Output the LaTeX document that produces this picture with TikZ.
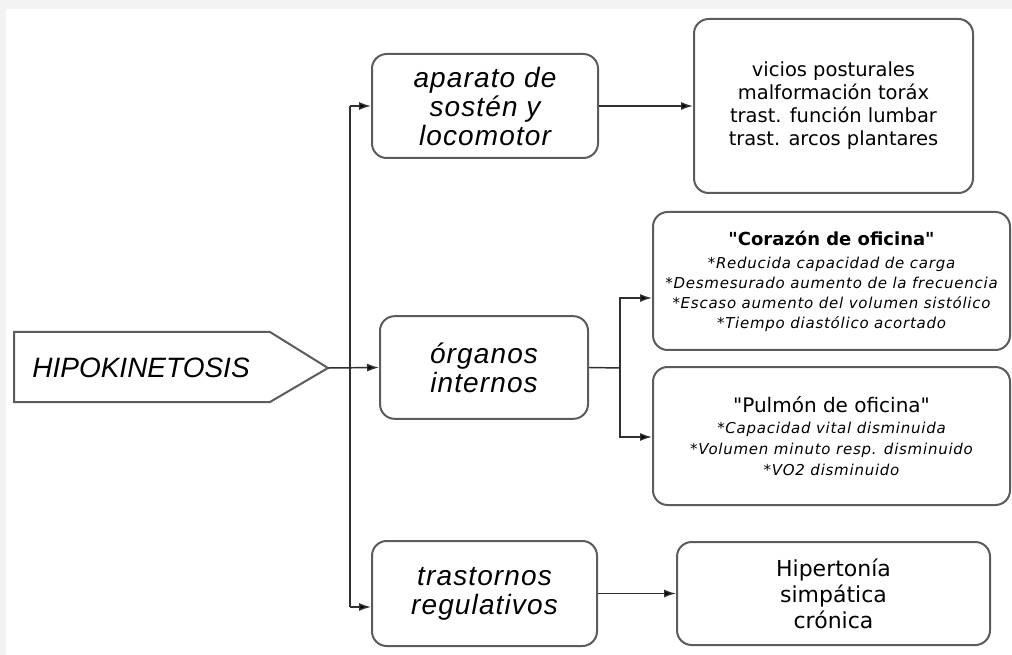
\documentclass[tikz,border=0pt]{standalone}
\usepackage{fontspec}
\setmainfont{DejaVu Sans}
\newfontfamily\labelfont[LetterSpace=4]{Liberation Sans}
\newfontfamily\titlefont{Liberation Sans}
\newfontfamily\headfont[Ligatures=TeXOff]{DejaVu Sans}
\newfontfamily\notefont[LetterSpace=5]{DejaVu Sans}
\newcommand\notetext{\notefont\itshape\fontsize{11.25}{15}\selectfont}
\usetikzlibrary{arrows.meta}
\definecolor{bgfill}{HTML}{F3F3F3}
\definecolor{boxgray}{HTML}{5C5C5C}
\definecolor{linkgray}{HTML}{303030}

\begin{document}
\begin{tikzpicture}[x=0.75pt,y=-0.75pt,
  box/.style={draw=boxgray, line width=1.5pt, rounded corners=11pt, fill=white,
    align=center, inner sep=0pt, text=black},
  catbox/.style={box, font=\labelfont\itshape\fontsize{21}{21.75}\selectfont},
  listbox/.style={box, font=\fontsize{14.6}{17.25}\selectfont},
  link/.style={draw=linkgray, line width=1.1pt},
  arrowlink/.style={link, -{Latex[length=9pt,width=6pt]}, arrows={[fill=black]}}
]
% canvas
\fill[bgfill] (0,0) rectangle (1012,655);
\fill[white] (6,9) rectangle (1012,655);
\useasboundingbox (0,0) rectangle (1012,655);

% root: pentagon-shaped label
\draw[draw=boxgray, line width=1.5pt, fill=white]
  (14,332) -- (270,332) -- (328,368) -- (270,402) -- (14,402) -- cycle;
\node[font=\titlefont\itshape\fontsize{21}{21}\selectfont, inner sep=0pt] (hk) at (141,368) {HIPOKINETOSIS};
\coordinate (hktip) at (328,368);

% categories
\node[catbox, minimum width=169.5pt, minimum height=78pt] (ap) at (485,106)
  {aparato de\\sostén y\\locomotor};
\node[catbox, minimum width=156pt, minimum height=77pt] (or) at (484,367.5)
  {órganos\\internos};
\node[catbox, minimum width=168.75pt, minimum height=78.75pt] (tr) at (484.5,593.5)
  {trastornos\\regulativos};

% consequences
\node[listbox, minimum width=209.25pt, minimum height=130.5pt] (vc) at (833.5,106)
  {vicios posturales\\malformación toráx\\trast. función lumbar\\trast. arcos plantares};
\node[box, font=\notetext, minimum width=267.75pt, minimum height=103.5pt] (cz) at (831.5,281)
  {{\headfont\upshape\bfseries\fontsize{13.5}{15}\selectfont "Corazón de oficina"}\\[2.25pt]
   *Reducida capacidad de carga\\{}*Desmesurado aumento de la frecuencia\\{}*Escaso aumento del volumen sistólico\\{}*Tiempo diastólico acortado};
\node[box, font=\notetext\fontsize{11.25}{15.75}\selectfont, minimum width=267.75pt, minimum height=103.5pt] (pu) at (831.5,436)
  {{\headfont\upshape\fontsize{15}{15.75}\selectfont "Pulmón de oficina"}\\
   *Capacidad vital disminuida\\{}*Volumen minuto resp. disminuido\\{}*VO2 disminuido};
\node[box, font=\fontsize{16.5}{19.5}\selectfont, minimum width=234.75pt, minimum height=77.25pt] (hp) at (833.5,593.5)
  {Hipertonía\\simpática\\crónica};

% trunk from the root to the three categories
\coordinate (tk) at (350,368);
\coordinate (tkb) at (350,607);
\draw[link] (tk |- ap.west) -- (tkb);
\draw[arrowlink] (hktip) -- (or.west);
\draw[arrowlink] (tk |- ap.west) -- (ap.west);
\draw[arrowlink] (tkb) -- (tkb -| tr.west);

% branch from the internal organs
\coordinate (br) at (620,368);
\coordinate (br1) at (620,298);
\coordinate (br2) at (620,437);
\draw[link] (or.east) -- (br);
\draw[arrowlink] (br) -- (br1) -- (br1 -| cz.west);
\draw[arrowlink] (br) -- (br2) -- (br2 -| pu.west);

% remaining links
\draw[arrowlink] (ap.east) -- (vc.west);
\draw[arrowlink] (tr.east) -- (hp.west);
\end{tikzpicture}
\end{document}
